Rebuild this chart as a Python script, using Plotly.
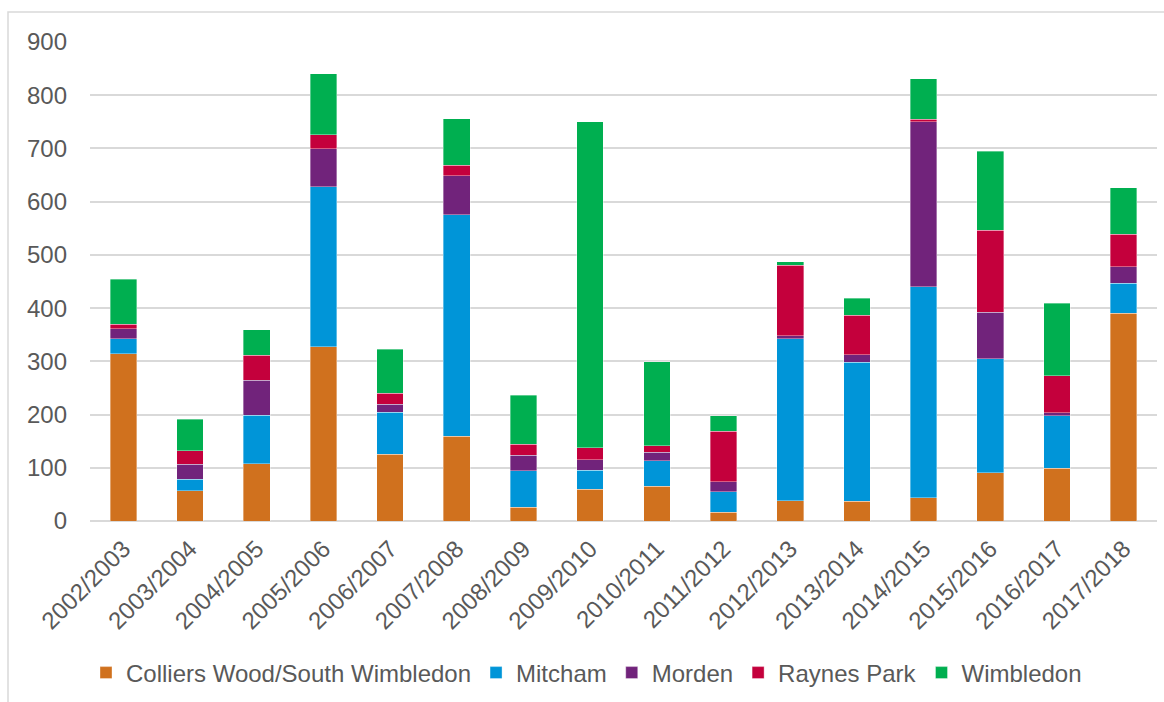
import plotly.graph_objects as go

years = ["2002/2003", "2003/2004", "2004/2005", "2005/2006", "2006/2007",
         "2007/2008", "2008/2009", "2009/2010", "2010/2011", "2011/2012",
         "2012/2013", "2013/2014", "2014/2015", "2015/2016", "2016/2017",
         "2017/2018"]

colliers_wood = [314, 57, 108, 327, 125, 159, 26, 60, 65, 16, 38, 37, 44, 91, 99, 390]
mitcham = [28, 21, 91, 301, 79, 416, 68, 35, 48, 39, 304, 261, 396, 214, 99, 57]
morden = [19, 29, 65, 71, 15, 74, 30, 20, 16, 19, 6, 14, 310, 87, 5, 31]
raynes_park = [9, 25, 47, 27, 21, 19, 20, 23, 12, 95, 133, 75, 5, 154, 70, 61]
wimbledon = [84, 59, 48, 114, 83, 88, 92, 612, 158, 29, 6, 32, 76, 149, 136, 87]

series = [
    ("Colliers Wood/South Wimbledon", colliers_wood, "#D0711E"),
    ("Mitcham", mitcham, "#0095D8"),
    ("Morden", morden, "#71237B"),
    ("Raynes Park", raynes_park, "#C4003C"),
    ("Wimbledon", wimbledon, "#00AF50"),
]

FONT = "Liberation Sans, Arial, sans-serif"
TEXT = "#595959"
FS = 24

fig = go.Figure()
for name, vals, col in series:
    fig.add_trace(go.Bar(
        x=years, y=vals, name=name,
        marker=dict(color=col, line=dict(color="rgba(255,255,255,0.6)", width=0.6)),
    ))

W, H = 1164, 702
L, R, T, B = 90, 7, 42, 181
pw, ph = W - L - R, H - T - B

fig.update_layout(
    width=W, height=H,
    barmode="stack", bargap=0.6,
    margin=dict(l=L, r=R, t=T, b=B),
    paper_bgcolor="white", plot_bgcolor="white",
    font=dict(family=FONT, size=FS, color=TEXT),
    showlegend=True,
    legend=dict(
        orientation="h", traceorder="normal",
        x=(86 - L) / pw, xanchor="left",
        y=(H - B - 673) / ph, yanchor="middle",
        font=dict(family=FONT, size=FS, color=TEXT),
        bgcolor="rgba(0,0,0,0)",
    ),
    xaxis=dict(
        tickangle=-45, showgrid=False, showline=False, ticks="",
        ticklabelstandoff=8,
        tickfont=dict(family=FONT, size=FS, color=TEXT),
    ),
    yaxis=dict(
        range=[0, 900], dtick=100, showgrid=True, gridcolor="#D9D9D9",
        gridwidth=1.5, zeroline=True, zerolinecolor="#D9D9D9", zerolinewidth=1.5,
        showline=False, ticks="", ticklabelstandoff=22,
        tickfont=dict(family=FONT, size=FS, color=TEXT),
    ),
    shapes=[dict(
        type="rect", xref="paper", yref="paper", layer="below",
        x0=(8 - L) / pw, x1=1.2, y0=-1.0, y1=(H - B - 12) / ph,
        line=dict(color="#D9D9D9", width=1.5), fillcolor="rgba(0,0,0,0)",
    )],
)

fig.write_html("out.html")
